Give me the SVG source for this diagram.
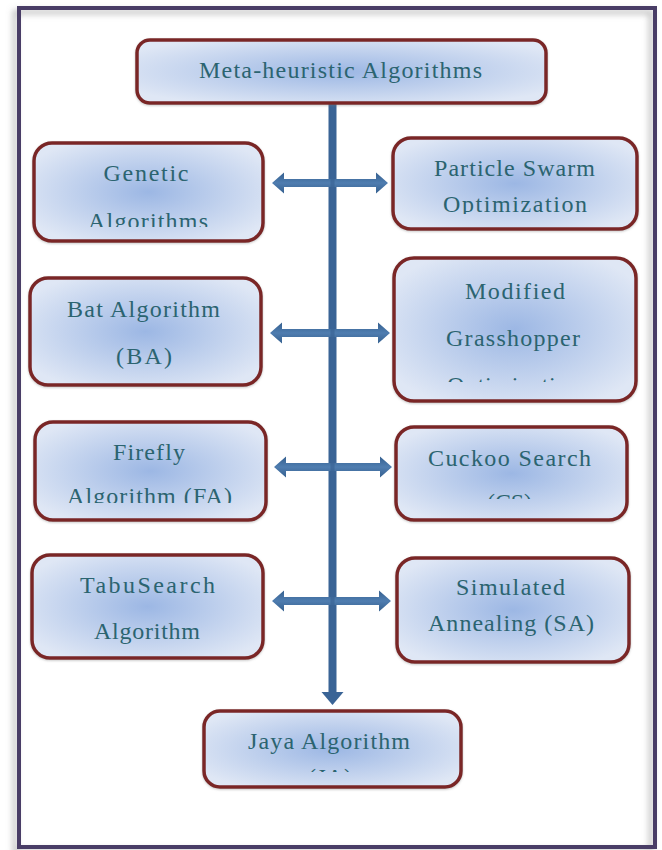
<svg xmlns="http://www.w3.org/2000/svg" width="662" height="850" viewBox="0 0 662 850">
<style>
.box{fill:url(#boxfill);stroke:#7a2828;stroke-width:3.5;filter:url(#bshadow)}
.lbl{font-family:"Liberation Serif","Times New Roman",serif;font-size:24px;fill:#2b6470;text-anchor:middle}
.shaft{fill:url(#shaftg)}
.bar{fill:#3a6496}
</style>
<defs>
<radialGradient id="boxfill" cx="50%" cy="50%" r="60%">
<stop offset="0" stop-color="#9cb7e4"/>
<stop offset="1" stop-color="#dfe7f5"/>
</radialGradient>
<linearGradient id="shaftg" x1="0" y1="0" x2="0" y2="1">
<stop offset="0" stop-color="#35608f"/>
<stop offset="0.5" stop-color="#4f7db0"/>
<stop offset="1" stop-color="#35608f"/>
</linearGradient>
<filter id="fshadow" x="-5%" y="-5%" width="110%" height="110%">
<feDropShadow dx="-4" dy="4" stdDeviation="3" flood-color="#888" flood-opacity="0.6"/>
</filter>
<filter id="bshadow" x="-5%" y="-10%" width="110%" height="120%">
<feDropShadow dx="0" dy="1" stdDeviation="1.2" flood-color="#777" flood-opacity="0.4"/>
</filter>
<clipPath id="cGen"><rect x="30" y="140" width="240" height="87"/></clipPath>
<clipPath id="cPso"><rect x="390" y="135" width="250" height="79"/></clipPath>
<clipPath id="cMgo"><rect x="390" y="255" width="250" height="127"/></clipPath>
<clipPath id="cFa"><rect x="30" y="420" width="240" height="83"/></clipPath>
<clipPath id="cCs"><rect x="390" y="424" width="240" height="75"/></clipPath>
<clipPath id="cJa"><rect x="200" y="708" width="265" height="64"/></clipPath>
</defs>
<rect width="662" height="850" fill="#ffffff"/>
<rect x="19" y="8" width="636" height="839" fill="none" stroke="#4a3d66" stroke-width="4" filter="url(#fshadow)"/>

<g id="connectors">
<rect class="bar" x="328.5" y="102" width="8" height="592"/>
<polygon class="bar" points="321.5,692 343.5,692 332.5,705"/>
<g id="row1">
<polygon class="shaft" points="272,183 284,172.5 284,179 332,179 332,187 284,187 284,193.5"/>
<polygon class="shaft" points="388,183 376,172.5 376,179 332,179 332,187 376,187 376,193.5"/>
</g>
<g id="row2">
<polygon class="shaft" points="270,333 282,322.5 282,329 332,329 332,337 282,337 282,343.5"/>
<polygon class="shaft" points="390,333 378,322.5 378,329 332,329 332,337 378,337 378,343.5"/>
</g>
<g id="row3">
<polygon class="shaft" points="274,467 286,456.5 286,463 332,463 332,471 286,471 286,477.5"/>
<polygon class="shaft" points="392,467 380,456.5 380,463 332,463 332,471 380,471 380,477.5"/>
</g>
<g id="row4">
<polygon class="shaft" points="272,601 284,590.5 284,597 332,597 332,605 284,605 284,611.5"/>
<polygon class="shaft" points="391,601 379,590.5 379,597 332,597 332,605 379,605 379,611.5"/>
</g>
<rect x="330.5" y="102" width="4" height="590" fill="#3a6496" opacity="0.7"/>
</g>

<g id="meta">
<rect class="box" x="137" y="40" width="409" height="63" rx="13"/>
<text class="lbl" x="340.5" y="78" textLength="283" lengthAdjust="spacing">Meta-heuristic Algorithms</text>
</g>

<g id="genetic">
<rect class="box" x="34" y="143" width="229" height="98" rx="18"/>
<g clip-path="url(#cGen)">
<text class="lbl" x="146" y="181" textLength="85" lengthAdjust="spacing">Genetic</text>
<text class="lbl" x="148" y="229" textLength="120" lengthAdjust="spacing">Algorithms</text>
</g>
</g>

<g id="pso">
<rect class="box" x="393" y="138" width="244" height="91" rx="18"/>
<g clip-path="url(#cPso)">
<text class="lbl" x="514.5" y="176" textLength="161" lengthAdjust="spacing">Particle Swarm</text>
<text class="lbl" x="515" y="212" textLength="144" lengthAdjust="spacing">Optimization</text>
</g>
</g>

<g id="bat">
<rect class="box" x="30" y="278" width="231" height="107" rx="18"/>
<text class="lbl" x="143.5" y="317" textLength="153" lengthAdjust="spacing">Bat Algorithm</text>
<text class="lbl" x="144" y="364" textLength="56" lengthAdjust="spacing">(BA)</text>
</g>

<g id="mgo">
<rect class="box" x="394" y="258" width="242" height="143" rx="20"/>
<g clip-path="url(#cMgo)">
<text class="lbl" x="515" y="299" textLength="100" lengthAdjust="spacing">Modified</text>
<text class="lbl" x="513" y="346" textLength="134" lengthAdjust="spacing">Grasshopper</text>
<text class="lbl" x="514" y="393" textLength="134" lengthAdjust="spacing">Optimization</text>
</g>
</g>

<g id="firefly">
<rect class="box" x="35" y="422" width="231" height="98" rx="18"/>
<g clip-path="url(#cFa)">
<text class="lbl" x="149" y="460" textLength="72" lengthAdjust="spacing">Firefly</text>
<text class="lbl" x="149.5" y="504" textLength="165" lengthAdjust="spacing">Algorithm (FA)</text>
</g>
</g>

<g id="cuckoo">
<rect class="box" x="396" y="427" width="231" height="93" rx="18"/>
<g clip-path="url(#cCs)">
<text class="lbl" x="509.5" y="466" textLength="163" lengthAdjust="spacing">Cuckoo Search</text>
<text class="lbl" x="509.5" y="510" textLength="45" lengthAdjust="spacing">(CS)</text>
</g>
</g>

<g id="tabu">
<rect class="box" x="32" y="555" width="231" height="103" rx="18"/>
<text class="lbl" x="147.5" y="593" textLength="135" lengthAdjust="spacing">TabuSearch</text>
<text class="lbl" x="147" y="639" textLength="106" lengthAdjust="spacing">Algorithm</text>
</g>

<g id="sa">
<rect class="box" x="397" y="558" width="232" height="104" rx="18"/>
<text class="lbl" x="510.5" y="595" textLength="109" lengthAdjust="spacing">Simulated</text>
<text class="lbl" x="511" y="631" textLength="166" lengthAdjust="spacing">Annealing (SA)</text>
</g>

<g id="jaya">
<rect class="box" x="204" y="711" width="257" height="76" rx="16"/>
<g clip-path="url(#cJa)">
<text class="lbl" x="329" y="749" textLength="162" lengthAdjust="spacing">Jaya Algorithm</text>
<text class="lbl" x="330" y="785" textLength="44" lengthAdjust="spacing">(JA)</text>
</g>
</g>
</svg>
